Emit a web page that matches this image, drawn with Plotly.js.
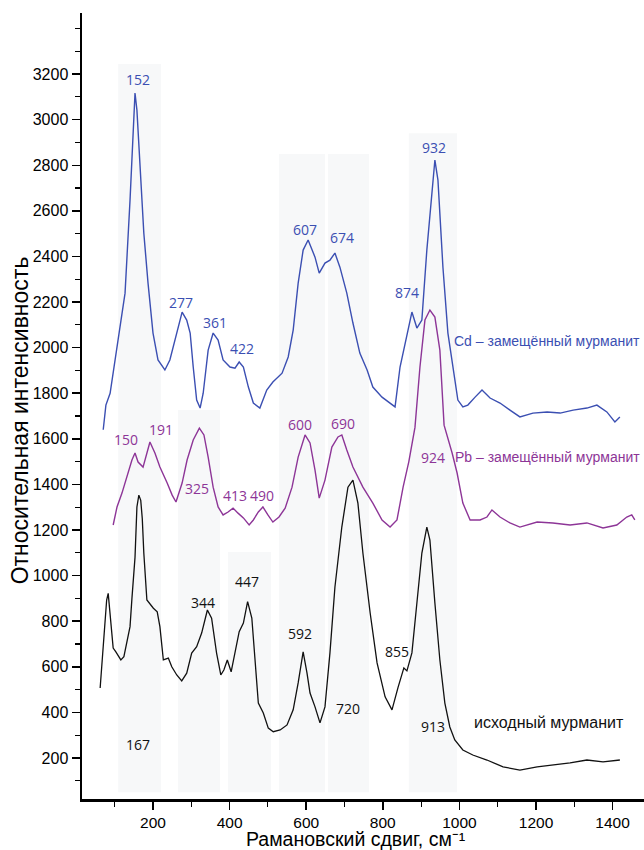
<!DOCTYPE html>
<html>
<head>
<meta charset="utf-8">
<script src="https://cdn.plot.ly/plotly-3.0.1.min.js"></script>
<style>html,body{margin:0;padding:0;background:#fff;}#chart{width:644px;height:850px;}</style>
</head>
<body>
<div id="chart"></div>
<script>
// Cd-substituted murmanite
const cdX = [70,77,88,106,127,140,148,153,158,166,176,187,200,213,231,244,263,276,288,297,305,314,323,331,344,357,370,383,401,414,425,436,449,462,479,497,513,537,553,566,579,592,605,623,634,649,662,675,688,706,722,740,759,774,798,819,832,845,863,876,889,902,915,928,936,944,957,970,983,996,1009,1022,1041,1059,1080,1106,1132,1158,1192,1229,1263,1297,1333,1359,1385,1406,1419];
const cdY = [1640,1748,1800,2003,2239,2647,2941,3117,3042,2792,2503,2283,2064,1946,1902,1946,2064,2156,2121,2064,1915,1770,1735,1800,1989,2064,2033,1946,1915,1910,1937,1915,1827,1757,1735,1814,1849,1888,1959,2077,2283,2428,2472,2397,2327,2371,2384,2415,2353,2239,2108,1976,1902,1827,1783,1757,1740,1915,2064,2156,2086,2121,2428,2691,2823,2735,2353,2064,1915,1770,1740,1748,1783,1814,1779,1757,1726,1696,1713,1718,1713,1726,1735,1748,1718,1674,1696];
// Pb-substituted murmanite
const pbX = [96,106,119,132,145,153,161,174,187,192,205,218,237,250,260,276,289,305,321,333,344,357,370,383,396,409,422,436,451,462,475,487,500,513,529,545,563,579,597,610,623,634,649,667,683,693,706,722,748,774,798,819,837,853,868,884,897,910,923,936,949,960,981,994,1009,1028,1054,1072,1085,1106,1132,1158,1203,1244,1289,1333,1375,1411,1437,1450,1458];
const pbY = [1222,1301,1362,1432,1507,1538,1498,1476,1564,1586,1538,1476,1406,1353,1323,1406,1507,1595,1647,1617,1520,1388,1301,1266,1279,1296,1274,1253,1222,1244,1279,1301,1266,1235,1257,1296,1388,1520,1617,1582,1463,1340,1419,1564,1608,1617,1551,1476,1388,1318,1244,1213,1244,1388,1500,1650,1915,2121,2165,2134,1989,1660,1538,1450,1318,1244,1244,1257,1288,1257,1231,1213,1235,1231,1222,1231,1209,1222,1257,1266,1244];
// original murmanite
const orX = [62,70,79,83,90,96,103,116,124,132,140,145,153,158,163,168,172,176,184,201,211,218,227,240,249,262,275,288,301,314,327,342,353,366,377,385,394,404,414,425,436,447,458,466,475,488,501,514,532,550,566,579,589,592,602,610,623,636,649,662,675,693,709,722,735,748,767,785,806,824,840,855,863,876,889,902,915,923,936,949,962,975,988,1009,1035,1072,1114,1158,1203,1244,1289,1333,1375,1419];
const orY = [507,704,893,922,805,682,665,630,644,718,776,900,1080,1301,1353,1330,1250,1099,893,857,841,776,630,638,600,564,538,572,660,688,748,849,813,660,564,586,630,578,660,754,792,886,814,630,441,397,331,315,323,345,411,529,630,665,573,485,424,354,424,661,950,1213,1388,1419,1318,1099,836,617,468,411,511,595,582,661,880,1099,1213,1156,880,630,441,336,279,235,213,191,161,147,161,169,178,191,183,191];

// shaded bands
const bandStart = [109,265,396,529,657,868];
const bandEnd   = [221,375,508,649,764,994];
const bandTop   = [3244,1726,1103,2850,2850,2940];

// peak labels
const cdLabels = ['152','277','361','422','607','674','874','932'];
const cdLabX = [161,273,362,432,597,693,863,934];
const cdLabY = [3178,2200,2112,1998,2520,2481,2244,2880];
const pbLabels = ['150','191','325','413','490','600','690','924'];
const pbLabX = [130,221,315,414,485,584,696,931];
const pbLabY = [1599,1643,1384,1353,1353,1665,1669,1520];
const orLabels = ['167','344','447','592','720','855','913'];
const orLabX = [161,331,445,584,710,837,931];
const orLabY = [261,884,972,744,419,665,340];

const seriesNames = ['Cd – замещённый мурманит','Pb – замещённый мурманит','исходный мурманит'];
const seriesLabX = [981,983,1033];
const seriesLabY = [2029,1520,354];

const cBlue = '#3b4fb2', cPurple = '#8d3597', cBlack = '#111111';

const traces = [
  {x: cdX, y: cdY, mode:'lines', line:{color:cBlue, width:1.4}},
  {x: pbX, y: pbY, mode:'lines', line:{color:cPurple, width:1.4}},
  {x: orX, y: orY, mode:'lines', line:{color:cBlack, width:1.3}}
];

const shapes = bandStart.map((s,i)=>({type:'rect', xref:'x', yref:'y', x0:s, x1:bandEnd[i], y0:50, y1:bandTop[i], fillcolor:'#f7f8f9', line:{width:0}, layer:'below'}));

const annotations = [];
function addLabels(texts, xs, ys, color) {
  texts.forEach((t,i)=>annotations.push({x:xs[i], y:ys[i], xref:'x', yref:'y', text:t, showarrow:false, font:{family:'Open Sans, sans-serif', size:14, color:color}}));
}
addLabels(cdLabels, cdLabX, cdLabY, cBlue);
addLabels(pbLabels, pbLabX, pbLabY, cPurple);
addLabels(orLabels, orLabX, orLabY, cBlack);
const sCol = [cBlue, cPurple, cBlack];
const sSize = [14, 14, 16];
seriesNames.forEach((t,i)=>annotations.push({x:seriesLabX[i], y:seriesLabY[i], xref:'x', yref:'y', text:t, showarrow:false, xanchor:'left', font:{family:'Liberation Sans, Arial, sans-serif', size:sSize[i], color:sCol[i]}}));
// axis titles
annotations.push({xref:'paper', yref:'paper', x:-0.110, y:0.482, xanchor:'center', yanchor:'middle', text:'Относительная интенсивность', textangle:-90, showarrow:false, font:{family:'Liberation Sans, Arial, sans-serif', size:23, color:'#000'}});
annotations.push({xref:'paper', yref:'paper', x:0.4875, y:-0.0505, xanchor:'center', yanchor:'middle', text:'Рамановский сдвиг, см⁻¹', showarrow:false, font:{family:'Liberation Sans, Arial, sans-serif', size:19.5, color:'#000'}});

const layout = {
  width:644, height:850,
  margin:{l:82, r:0, t:13, b:51},
  paper_bgcolor:'#fff', plot_bgcolor:'#fff',
  showlegend:false,
  font:{family:'Liberation Sans, Arial, sans-serif', color:'#000'},
  xaxis:{range:[14.6,1482], tickvals:[200,400,600,800,1000,1200,1400], ticks:'outside', ticklen:8, tickwidth:1.5, tickcolor:'#000',
    minor:{dtick:100, tick0:0, ticks:'outside', ticklen:5, tickwidth:1.2, tickcolor:'#000'},
    showline:true, linecolor:'#000', linewidth:2.5, showgrid:false, zeroline:false,
    tickfont:{size:15.5, color:'#000'}},
  yaxis:{range:[20,3468], tickvals:[200,400,600,800,1000,1200,1400,1600,1800,2000,2200,2400,2600,2800,3000,3200], ticks:'outside', ticklen:8, tickwidth:1.5, tickcolor:'#000',
    minor:{dtick:100, tick0:0, ticks:'outside', ticklen:5, tickwidth:1.2, tickcolor:'#000'},
    showline:true, linecolor:'#000', linewidth:2.5, showgrid:false, zeroline:false,
    tickfont:{size:16, color:'#000'}},
  shapes: shapes,
  annotations: annotations
};
Plotly.newPlot('chart', traces, layout, {displayModeBar:false, staticPlot:true});
</script>
</body>
</html>
